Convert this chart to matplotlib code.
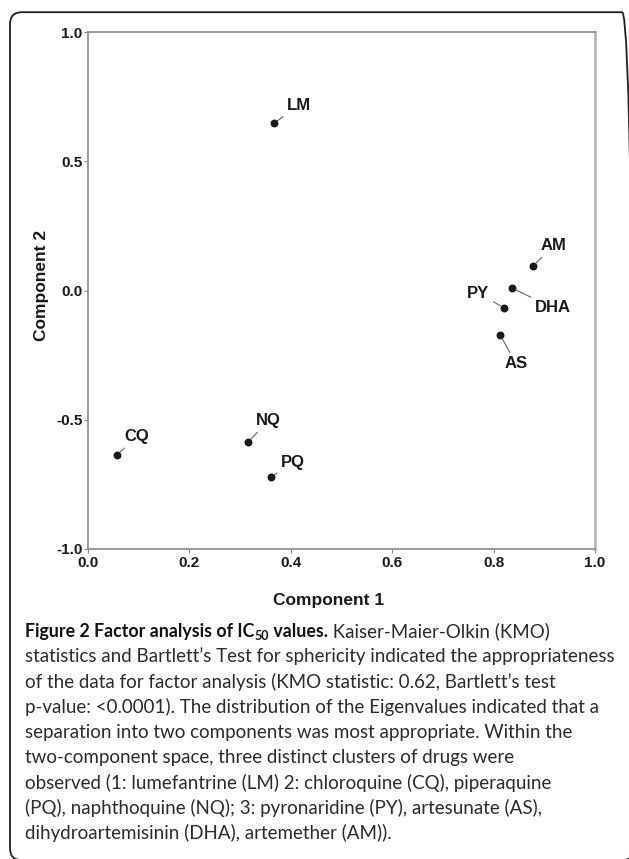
import matplotlib
matplotlib.use('Agg')
import matplotlib.pyplot as plt
from matplotlib.patches import FancyBboxPatch

# Factor analysis loadings
drugs = ['LM', 'AM', 'DHA', 'PY', 'AS', 'CQ', 'NQ', 'PQ']
component1 = [0.367, 0.878, 0.836, 0.821, 0.813, 0.057, 0.316, 0.361]
component2 = [0.648, 0.095, 0.010, -0.068, -0.172, -0.636, -0.586, -0.721]

x_ticks = [0.0, 0.2, 0.4, 0.6, 0.8, 1.0]
y_ticks = [-1.0, -0.5, 0.0, 0.5, 1.0]

caption_title = ['Figure 2 Factor analysis of IC', '50', ' values.']
caption_lines = [
    ' Kaiser-Maier-Olkin (KMO)',
    'statistics and Bartlett\u2019s Test for sphericity indicated the appropriateness',
    'of the data for factor analysis (KMO statistic: 0.62, Bartlett\u2019s test',
    'p-value: <0.0001). The distribution of the Eigenvalues indicated that a',
    'separation into two components was most appropriate. Within the',
    'two-component space, three distinct clusters of drugs were',
    'observed (1: lumefantrine (LM) 2: chloroquine (CQ), piperaquine',
    '(PQ), naphthoquine (NQ); 3: pyronaridine (PY), artesunate (AS),',
    'dihydroartemisinin (DHA), artemether (AM)).',
]

# label offsets in pixels from each point
label_offsets = {
    'LM': (25, 17), 'AM': (20, 20), 'DHA': (41, -20), 'PY': (-26, 15),
    'AS': (16, -29), 'CQ': (20, 18), 'NQ': (20, 21), 'PQ': (22, 14),
}

W, H = 629, 859
fig = plt.figure(figsize=(W / 100, H / 100), dpi=100)
plt.rcParams['font.family'] = ['Liberation Sans', 'DejaVu Sans']

# rounded frame round the whole figure (right and bottom run off the edge)
frame = FancyBboxPatch((0.10, -0.012), 6.24, 8.48,
                       boxstyle='round,pad=0,rounding_size=0.12',
                       transform=fig.dpi_scale_trans, fill=False,
                       edgecolor='#231f20', linewidth=1.3, clip_on=False)
fig.patches.append(frame)

ax = fig.add_axes([88 / W, 1 - 549 / H, (595 - 88) / W, (549 - 32) / H])
ax.scatter(component1, component2, s=22, color='#1a1a1a', zorder=3)

for name, x, y in zip(drugs, component1, component2):
    ax.annotate(name, xy=(x, y), xytext=label_offsets[name],
                textcoords='offset pixels', ha='center', va='center',
                fontsize=12, fontweight='bold', color='#1a1a1a',
                arrowprops=dict(arrowstyle='-', color='#666666', lw=0.8,
                                shrinkA=1, shrinkB=3))

ax.set_xlim(0, 1)
ax.set_ylim(-1, 1)
ax.set_xticks(x_ticks)
ax.set_yticks(y_ticks)
ax.set_xticklabels(['%.1f' % v for v in x_ticks], fontsize=11, fontweight='bold')
ax.set_yticklabels(['%.1f' % v for v in y_ticks], fontsize=11, fontweight='bold')
ax.tick_params(direction='out', length=3, width=0.8, color='#888888', pad=1,
               labelcolor='#1a1a1a')
ax.tick_params(axis='x', pad=2)
for side in ['left', 'bottom', 'top']:
    ax.spines[side].set_color('#8a8a8a')
    ax.spines[side].set_linewidth(1.2)
ax.spines['right'].set_color('#b5b5b5')
ax.spines['right'].set_linewidth(2.0)

ax.set_xlabel('Component 1', fontsize=12.5, fontweight='bold', color='#1a1a1a', va='center')
ax.set_ylabel('Component 2', fontsize=12.5, fontweight='bold', color='#1a1a1a', va='center')
ax.xaxis.set_label_coords(0.475, -0.10)
ax.yaxis.set_label_coords(-0.092, 0.51)

# caption, drawn piece by piece
renderer = fig.canvas.get_renderer()
cap_font = ['Lato', 'DejaVu Sans']
x0, y0, step = 25, 637, 25.3
x = x0
for i, piece in enumerate(caption_title):
    sub = (i == 1)
    t = fig.text(x / W, 1 - (y0 + (3 if sub else 0)) / H, piece,
                 fontsize=9.0 if sub else 12.8, fontweight='bold',
                 family=cap_font, color='#111111', va='baseline', ha='left')
    x += t.get_window_extent(renderer).width
for i, line in enumerate(caption_lines):
    xx = x if i == 0 else x0
    fig.text(xx / W, 1 - (y0 + i * step) / H, line, fontsize=13.5,
             family=cap_font, color='#2b2b2b', va='baseline', ha='left')

fig.savefig('out.png', dpi=100)
